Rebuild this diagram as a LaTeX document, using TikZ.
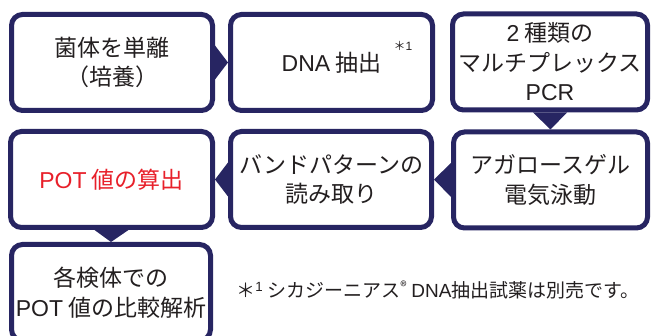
\documentclass[tikz,border=0pt]{standalone}
\usepackage{fontspec}
\setmainfont{Noto Sans CJK JP}
\newfontfamily\lat{Liberation Sans}
\definecolor{navy}{RGB}{39,37,98}
\definecolor{txt}{RGB}{35,31,32}
\definecolor{redtxt}{RGB}{232,32,42}
\tikzset{
  box/.style={draw=navy, line width=5pt, fill=white, rounded corners=11pt,
    inner sep=0pt, minimum height=96pt, text=txt, align=center,
    font=\fontsize{23}{29.5}\selectfont},
  tri/.style={fill=navy}
}
\begin{document}
\begin{tikzpicture}[x=1pt,y=1pt]
\useasboundingbox (0,0) rectangle (651,-336);
\node[box, minimum width=201pt] (b1) at (112,-62.5) {菌体を単離\\（培養）};
\node[box, minimum width=202pt] (b2) at (331.5,-62.5) {{\lat DNA} 抽出};
\node[box, minimum width=195pt] (b3) at (550,-62) {{\lat 2} 種類の\\マルチプレックス\\{\lat PCR}};
\node[box, minimum width=194pt] (b4) at (550.5,-180) {アガロースゲル\\電気泳動};
\node[box, minimum width=201pt] (b5) at (331,-179.5) {バンドパターンの\\読み取り};
\node[box, minimum width=202pt, text=redtxt] (b6) at (111.5,-179.5) {{\lat POT} 値の算出};
\node[box, minimum width=199pt] (b7) at (111,-292.5) {各検体での\\{\lat POT} 値の比較解析};
\node[text=txt, font=\fontsize{12}{12}\selectfont, anchor=west] (n1) at (390,-46) {＊{\lat 1}};
\node[text=txt, font=\fontsize{19}{20}\selectfont] (fn) at (438,-290)
  {＊\textsuperscript{\lat 1} シカジーニアス\textsuperscript{®} {\lat DNA}抽出試薬は別売です。};
\fill[tri] ([yshift=17pt]b1.east) -- (b2.west) -- ([yshift=-17pt]b1.east) -- cycle;
\fill[tri] ([xshift=-17pt]b3.south) -- (b4.north) -- ([xshift=17pt]b3.south) -- cycle;
\fill[tri] ([yshift=17pt]b4.west) -- (b5.east) -- ([yshift=-17pt]b4.west) -- cycle;
\fill[tri] ([yshift=17pt]b5.west) -- (b6.east) -- ([yshift=-17pt]b5.west) -- cycle;
\fill[tri] ([xshift=-17pt]b6.south) -- (b7.north) -- ([xshift=17pt]b6.south) -- cycle;
\end{tikzpicture}
\end{document}
